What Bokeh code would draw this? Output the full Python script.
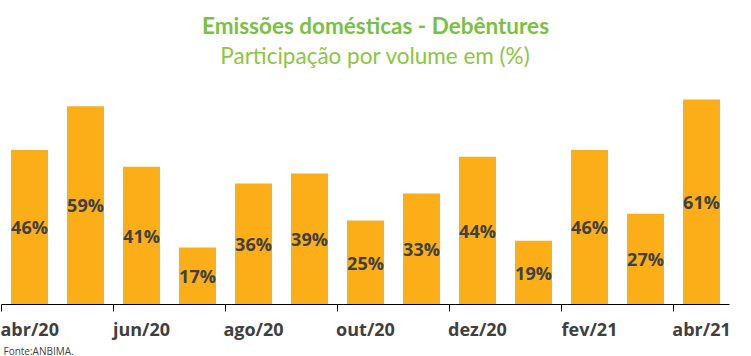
from bokeh.plotting import figure
from bokeh.models import Range1d, FixedTicker, Label, ColumnDataSource, LinearAxis, Title
from bokeh.embed import file_html
from bokeh.resources import INLINE

# Data
months = ["abr/20", "mai/20", "jun/20", "jul/20", "ago/20", "set/20", "out/20",
          "nov/20", "dez/20", "jan/21", "fev/21", "mar/21", "abr/21"]
values = [46, 59, 41, 17, 36, 39, 25, 33, 44, 19, 46, 27, 61]
tick_labels = months[::2]

title_text = "Emissões domésticas - Debêntures"
subtitle_text = "Participação por volume em (%)"
source_text = "Fonte:ANBIMA."

x_pos = [i + 0.5 for i in range(len(months))]
src = ColumnDataSource(dict(
    x=x_pos,
    top=values,
    mid=[v / 2 for v in values],
    lbl=[f"{v}%" for v in values],
))

W, H = 751, 356
frame_bottom = 304
px_per_unit = 3.36

p = figure(width=W, height=H, output_backend="svg", toolbar_location=None,
           x_range=Range1d(0, len(months)),
           y_range=Range1d(0, frame_bottom / px_per_unit),
           x_axis_location=None, y_axis_location=None,
           min_border_left=1, min_border_right=22,
           min_border_top=0, min_border_bottom=H - frame_bottom)
p.outline_line_color = None
p.grid.visible = False
p.background_fill_color = "white"
p.border_fill_color = "white"

p.vbar(x="x", top="top", width=0.66, bottom=0, source=src,
       fill_color="#FBAE17", line_color=None)

p.text(x="x", y="mid", text="lbl", source=src,
       text_align="center", text_baseline="middle",
       text_font={"value": "Open Sans"}, text_font_style="bold",
       text_font_size="18px", text_color="#404040")

# axis line + boundary ticks (every 2 categories)
bounds = list(range(0, len(months) + 1, 2))
ax1 = LinearAxis(ticker=FixedTicker(ticks=bounds))
ax1.major_tick_out = 7
ax1.major_tick_in = 0
ax1.major_tick_line_color = "black"
ax1.minor_tick_line_color = None
ax1.axis_line_color = "black"
ax1.major_label_overrides = {b: "" for b in bounds}
ax1.major_label_text_font_size = "1px"
ax1.major_label_standoff = 0
p.add_layout(ax1, "below")

# category labels centred under bars
ax2 = LinearAxis(ticker=FixedTicker(ticks=x_pos[::2]))
ax2.major_label_overrides = {x_pos[i]: months[i] for i in range(0, len(months), 2)}
ax2.axis_line_color = None
ax2.major_tick_line_color = None
ax2.minor_tick_line_color = None
ax2.major_tick_out = 0
ax2.major_tick_in = 0
ax2.major_label_text_font = "Open Sans"
ax2.major_label_text_font_style = "bold"
ax2.major_label_text_font_size = "18px"
ax2.major_label_text_color = "#404040"
ax2.major_label_standoff = 5
p.add_layout(ax2, "below")

p.add_layout(Title(text=source_text, align="left", offset=2, standoff=-4,
                   text_font="Open Sans", text_font_style="normal",
                   text_font_size="10px", text_color="#404040"), "below")

p.add_layout(Label(x=374, y=frame_bottom - 25, x_units="screen", y_units="screen",
                   text=title_text, text_align="center", text_baseline="middle",
                   text_font="Lato", text_font_style="bold", text_font_size="22.5px",
                   text_color="#7AC143"))
p.add_layout(Label(x=374, y=frame_bottom - 55, x_units="screen", y_units="screen",
                   text=subtitle_text, text_align="center", text_baseline="middle",
                   text_font="Lato", text_font_size="22.5px",
                   text_color="#8DC63F"))

open("out.html", "w").write(file_html(p, INLINE))
